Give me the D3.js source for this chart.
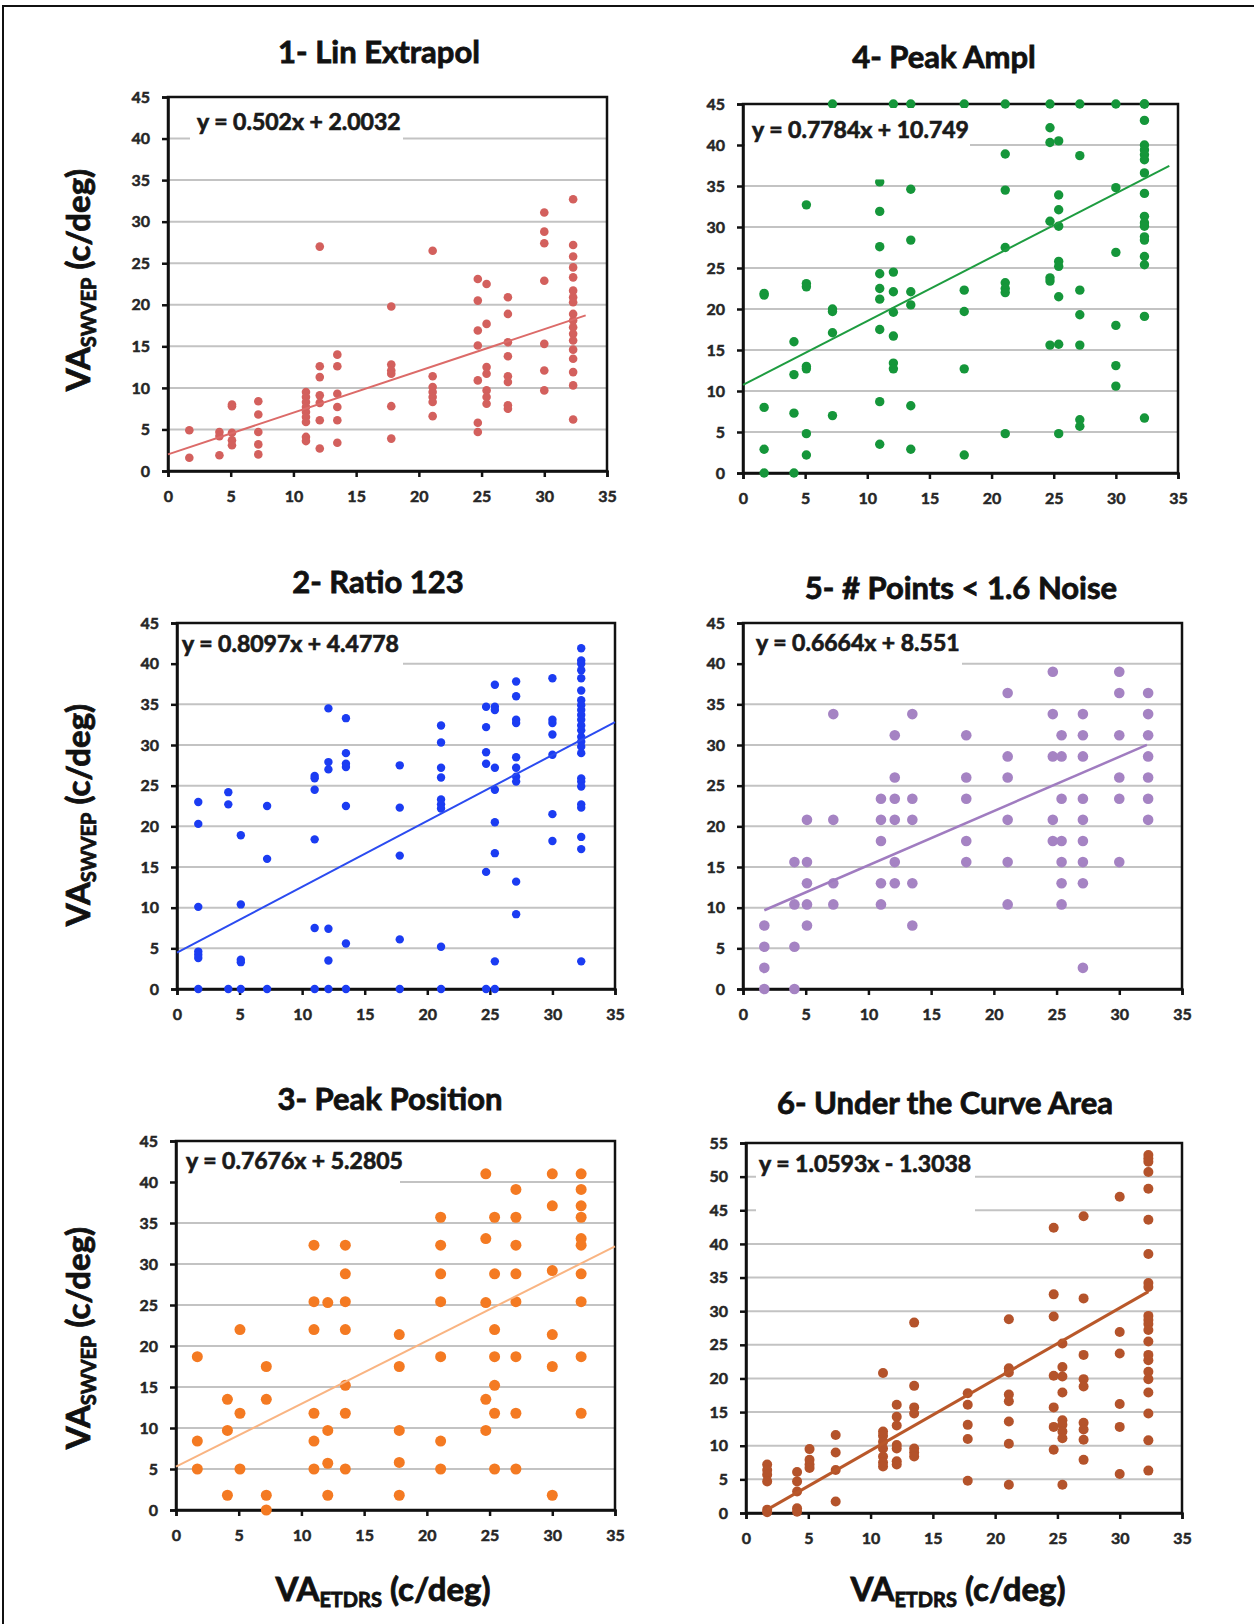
<!DOCTYPE html>
<meta charset="utf-8">
<style>
body{margin:0;background:#fff;}
svg text{font-family:Lato,"Open Sans",sans-serif;font-weight:bold;}
</style>
<body>
<script src="https://cdn.jsdelivr.net/npm/d3@7"></script>
<script>
// VA ETDRS levels (c/deg), shared by all six methods
var xLevels = [1.7, 4.1, 5.1, 7.2, 11, 12.1, 13.5, 17.8, 21.1, 24.7, 25.4, 27.1, 30, 32.3];

// VA SWVEP values, one list for each x level
var linExtrapol = [
  [4.9, 1.6], [4.7, 4.2, 1.9], [8.0, 7.8, 4.6, 3.7, 3.1], [8.4, 6.8, 4.7, 3.2, 2.0],
  [9.5, 8.9, 8.3, 7.7, 7.1, 6.5, 5.9, 4.1, 3.6], [27.0, 12.6, 11.3, 9.1, 8.2, 6.1, 2.7],
  [14.0, 12.6, 9.3, 7.7, 6.1, 3.4], [19.8, 12.8, 12.1, 11.7, 7.8, 3.9],
  [26.5, 11.4, 10.1, 9.5, 8.9, 8.3, 6.6], [23.1, 20.5, 16.9, 15.1, 10.9, 5.8, 4.7],
  [22.5, 17.7, 12.5, 11.7, 9.7, 8.9, 8.1], [20.9, 18.9, 15.5, 13.8, 11.4, 10.7, 7.9, 7.5],
  [31.1, 28.8, 27.4, 22.9, 15.3, 12.1, 9.7],
  [32.7, 27.2, 25.8, 24.5, 23.3, 21.7, 20.9, 20.3, 18.9, 18.1, 17.3, 16.5, 15.7, 14.6, 13.5, 11.9, 10.3, 6.2]
];
var ratio123 = [
  [23.0, 20.3, 10.1, 4.6, 4.2, 3.8, 0], [24.2, 22.7, 0], [18.9, 10.4, 3.6, 3.3, 0], [22.5, 16.0, 0],
  [26.2, 25.9, 24.5, 18.4, 7.5, 0], [34.5, 27.9, 27.0, 7.4, 3.5, 0], [33.3, 29.0, 27.7, 27.3, 22.5, 5.6, 0],
  [27.5, 22.3, 16.4, 6.1, 0], [32.4, 30.3, 27.2, 26.0, 23.3, 22.7, 22.2, 5.2, 0],
  [34.7, 32.2, 29.1, 27.7, 14.4, 0], [37.4, 34.7, 34.3, 27.2, 24.5, 20.5, 16.7, 3.4, 0],
  [37.8, 36.0, 33.1, 32.7, 28.5, 27.2, 26.1, 25.5, 13.2, 9.2], [38.2, 33.1, 32.7, 31.3, 28.8, 21.5, 18.2],
  [41.9, 40.4, 40.0, 39.2, 38.2, 36.7, 35.5, 34.9, 34.3, 33.7, 33.1, 32.4, 31.8, 31.0, 30.4, 29.8, 29.0, 25.9, 25.5, 24.9, 22.7, 22.3, 18.7, 17.2, 3.4]
];
var peakPosition = [
  [18.7, 8.4, 5.0], [13.5, 9.7, 1.8], [22.0, 11.8, 5.0], [17.5, 13.5, 1.8, 0],
  [32.3, 25.4, 22.0, 11.8, 8.4, 5.0], [25.3, 9.7, 5.7, 1.8], [32.3, 28.8, 25.4, 22.0, 15.2, 11.8, 5.0],
  [21.4, 17.5, 9.7, 5.8, 1.8], [35.7, 32.3, 28.8, 25.4, 18.7, 8.4, 5.0], [41.0, 33.1, 25.3, 13.5, 9.7],
  [35.7, 28.8, 22.0, 18.7, 15.2, 11.8, 5.0], [39.1, 35.7, 32.3, 28.8, 25.4, 18.7, 11.8, 5.0],
  [41.0, 37.1, 29.2, 21.4, 17.5, 1.8], [41.0, 39.1, 37.1, 35.7, 33.1, 32.3, 28.8, 25.4, 18.7, 11.8]
];
var peakAmpl = [
  [21.7, 21.9, 8.0, 2.9, 0], [16.0, 12.0, 7.3, 0], [32.7, 23.1, 22.7, 13.0, 12.7, 4.8, 2.2],
  [45, 20.0, 19.7, 17.1, 7.0], [35.5, 31.9, 27.6, 24.3, 22.5, 21.2, 17.5, 8.7, 3.5],
  [45, 24.5, 22.1, 19.6, 16.7, 13.4, 12.7], [45, 34.6, 28.4, 22.1, 20.5, 8.2, 2.9], [45, 22.3, 19.7, 12.7, 2.2],
  [45, 38.9, 34.5, 27.5, 23.2, 22.5, 22.0, 4.8], [45, 42.1, 40.3, 30.7, 23.8, 23.4, 15.6],
  [40.5, 33.9, 32.1, 30.1, 25.8, 25.2, 21.5, 15.7, 4.8], [45, 38.7, 22.3, 19.3, 15.6, 6.5, 5.7],
  [45, 34.8, 26.9, 18.0, 13.1, 10.6],
  [45, 45, 43.0, 40.0, 39.4, 38.8, 38.2, 36.6, 34.1, 31.3, 30.5, 30.1, 28.8, 28.4, 26.4, 25.4, 19.1, 6.7]
];
var pointsNoise = [
  [7.8, 5.2, 2.6, 0], [15.6, 10.4, 5.2, 0], [20.8, 15.6, 13, 10.4, 7.8], [33.8, 20.8, 13, 10.4],
  [23.4, 20.8, 18.2, 13, 10.4], [31.2, 26, 23.4, 20.8, 15.6, 13], [33.8, 23.4, 20.8, 13, 7.8],
  [31.2, 26, 23.4, 18.2, 15.6], [36.4, 28.6, 26, 20.8, 15.6, 10.4], [39, 33.8, 28.6, 20.8, 18.2],
  [31.2, 28.6, 23.4, 18.2, 15.6, 13, 10.4], [33.8, 31.2, 28.6, 23.4, 20.8, 18.2, 15.6, 13, 2.6],
  [39, 36.4, 31.2, 26, 23.4, 15.6], [36.4, 33.8, 31.2, 28.6, 26, 23.4, 20.8]
];
var underCurve = [
  [7.2, 6.4, 5.7, 4.7, 0.5, 0.1], [6.1, 4.7, 3.2, 0.7, 0.2], [9.5, 7.9, 7.2, 6.7], [11.6, 9.0, 6.4, 1.7],
  [20.8, 12.1, 11.5, 10.6, 9.6, 8.4, 7.5, 6.9], [16.1, 14.3, 13.0, 10.1, 9.6, 7.7, 7.2],
  [28.3, 18.9, 15.7, 14.8, 9.6, 9.0, 8.4], [17.8, 16.1, 13.1, 11.0, 4.8],
  [28.8, 21.5, 20.9, 17.6, 16.6, 13.6, 10.3, 4.2], [42.4, 32.5, 29.2, 20.4, 15.7, 12.8, 9.4],
  [25.2, 21.7, 20.3, 17.9, 13.8, 13.1, 12.1, 11.1, 4.2], [44.1, 31.9, 23.5, 19.9, 18.8, 13.4, 12.4, 10.9, 7.9],
  [47.0, 26.9, 23.7, 16.2, 12.8, 5.8],
  [53.2, 52.7, 52.2, 50.7, 48.2, 43.6, 38.5, 34.2, 33.6, 29.3, 28.7, 28.1, 27.2, 25.5, 23.5, 22.7, 21.0, 19.9, 17.9, 14.8, 10.8, 6.3]
];

var titles = ["1- Lin Extrapol", "2- Ratio 123", "3- Peak Position", "4- Peak Ampl", "5- # Points < 1.6 Noise", "6- Under the Curve Area"];
var slopes = [0.502, 0.8097, 0.7676, 0.7784, 0.6664, 1.0593];
var intercepts = [2.0032, 4.4778, 5.2805, 10.749, 8.551, -1.3038];
var trendFrom = [0, 0, 0, 0, 1.7, 1.7];
var trendTo = [33.3, 35, 35, 34.3, 32.2, 32.3];
var yMaxes = [45, 45, 45, 45, 45, 55];
var xMax = 35;

// layout of each panel (pixels)
var panels = [
  {data: linExtrapol, left: 168, right: 607, top: 97, bottom: 471, color: "#d3605d", line: "#dc6b69", r: 4.3, lw: 2,
   boxX0: 190, boxX1: 403, boxTo: 38.6, eqX: 197, eqY: 130, tx: 379, ty: 63},
  {data: ratio123, left: 177, right: 615, top: 623, bottom: 989, color: "#1b3cf2", line: "#2b4bf0", r: 4.2, lw: 2,
   boxX0: 179, boxX1: 403, boxTo: 38.4, eqX: 182, eqY: 652, tx: 378, ty: 593},
  {data: peakPosition, left: 176, right: 615, top: 1141, bottom: 1510, color: "#f47a22", line: "#f9b482", r: 5.5, lw: 2,
   boxX0: 178, boxX1: 400, boxTo: 38.4, eqX: 186, eqY: 1169, tx: 390, ty: 1110},
  {data: peakAmpl, left: 743, right: 1178, top: 104, bottom: 473, color: "#15963a", line: "#1e9c40", r: 4.7, lw: 2,
   boxX0: 745, boxX1: 970, boxTo: 35.8, eqX: 752, eqY: 138, tx: 944, ty: 68},
  {data: pointsNoise, left: 743, right: 1182, top: 623, bottom: 989, color: "#a583c3", line: "#a07cc0", r: 5.3, lw: 2.5,
   boxX0: 745, boxX1: 962, boxTo: 38.4, eqX: 756, eqY: 651, tx: 961, ty: 599},
  {data: underCurve, left: 746, right: 1182, top: 1143, bottom: 1513, color: "#b4532b", line: "#b9582a", r: 5, lw: 3,
   boxX0: 756, boxX1: 975, boxTo: 43.4, eqX: 759, eqY: 1172, tx: 945, ty: 1114}
];

var yLabelPos = [280, 815, 1338];
var xLabelPos = [383, 958];

var svg = d3.select("body").append("svg")
  .attr("width", 1254)
  .attr("height", 1624);

svg.append("rect")
  .attr("width", 1254).attr("height", 1624)
  .attr("fill", "#fff");

// outer frame (only top and left sides are inside the picture)
svg.append("rect")
  .attr("x", 3).attr("y", 6)
  .attr("width", 1300).attr("height", 1700)
  .attr("fill", "none")
  .attr("stroke", "#111")
  .attr("stroke-width", 2);

// heavier text, closer to the scanned look
function heavy(sel, w) {
  sel.attr("stroke", "currentColor").attr("stroke-width", w).attr("paint-order", "stroke");
}

panels.forEach(function(p, k) {
  var yMax = yMaxes[k];
  var x = d3.scaleLinear().domain([0, xMax]).range([p.left, p.right]);
  var y = d3.scaleLinear().domain([0, yMax]).range([p.bottom, p.top]);
  var g = svg.append("g");

  // horizontal gridlines
  g.selectAll(".grid")
    .data(d3.range(5, yMax, 5))
    .enter().append("line")
    .attr("x1", p.left).attr("x2", p.right)
    .attr("y1", function(d) { return y(d); })
    .attr("y2", function(d) { return y(d); })
    .attr("stroke", "#c3c3c3")
    .attr("stroke-width", 2);

  // plot area border
  g.append("rect")
    .attr("x", p.left).attr("y", p.top)
    .attr("width", p.right - p.left).attr("height", p.bottom - p.top)
    .attr("fill", "none")
    .attr("stroke", "#111")
    .attr("stroke-width", 2.5);

  var yAxis = g.append("g")
    .attr("transform", "translate(" + p.left + ",0)")
    .call(d3.axisLeft(y).tickValues(d3.range(0, yMax + 1, 5)).tickSize(6).tickPadding(12));
  var xAxis = g.append("g")
    .attr("transform", "translate(0," + p.bottom + ")")
    .call(d3.axisBottom(x).tickValues(d3.range(0, xMax + 1, 5)).tickSize(6).tickPadding(14));
  [yAxis, xAxis].forEach(function(ax) {
    ax.select(".domain").attr("stroke", "#111").attr("stroke-width", 2.5);
    ax.selectAll(".tick line").attr("stroke", "#111").attr("stroke-width", 2.5);
    ax.selectAll(".tick text")
      .attr("fill", "#262626")
      .style("color", "#262626")
      .style("font-size", "16px")
      .style("font-family", "Lato, sans-serif")
      .style("font-weight", "bold")
      .call(heavy, 0.5);
  });

  // points
  var pts = [];
  p.data.forEach(function(col, i) {
    col.forEach(function(v) { pts.push({x: xLevels[i], y: v}); });
  });
  g.selectAll(".dot")
    .data(pts)
    .enter().append("circle")
    .attr("cx", function(d) { return x(d.x); })
    .attr("cy", function(d) { return y(d.y); })
    .attr("r", p.r)
    .attr("fill", p.color);

  // linear trendline
  var line = d3.line()
    .x(function(d) { return x(d); })
    .y(function(d) { return y(slopes[k] * d + intercepts[k]); });
  g.append("path")
    .datum([trendFrom[k], trendTo[k]])
    .attr("d", line)
    .attr("fill", "none")
    .attr("stroke", p.line)
    .attr("stroke-width", p.lw);

  // equation label box
  g.append("rect")
    .attr("x", p.boxX0).attr("y", p.top + 4)
    .attr("width", p.boxX1 - p.boxX0)
    .attr("height", y(p.boxTo) - p.top - 4)
    .attr("fill", "#fff");

  var b = intercepts[k];
  g.append("text")
    .attr("x", p.eqX).attr("y", p.eqY)
    .attr("fill", "#1a1a1a")
    .style("color", "#1a1a1a")
    .style("font-size", "23px")
    .text("y = " + slopes[k] + "x " + (b < 0 ? "- " : "+ ") + Math.abs(b))
    .call(heavy, 0.7);

  // title
  g.append("text")
    .attr("x", p.tx).attr("y", p.ty)
    .attr("text-anchor", "middle")
    .attr("fill", "#111")
    .style("color", "#111")
    .style("font-size", "31px")
    .text(titles[k])
    .call(heavy, 0.8);
});

// y axis labels
yLabelPos.forEach(function(cy) {
  var t = svg.append("text")
    .attr("transform", "translate(90," + cy + ") rotate(-90)")
    .attr("text-anchor", "middle")
    .attr("fill", "#111")
    .style("color", "#111")
    .style("font-size", "33px")
    .call(heavy, 0.8);
  t.append("tspan").text("VA");
  t.append("tspan").attr("dy", "0.3em").style("font-size", "20px").text("SWVEP");
  t.append("tspan").attr("dy", "-0.18em").text(" (c/deg)");
});

// x axis labels
xLabelPos.forEach(function(cx) {
  var t = svg.append("text")
    .attr("x", cx).attr("y", 1601)
    .attr("text-anchor", "middle")
    .attr("fill", "#111")
    .style("color", "#111")
    .style("font-size", "33px")
    .call(heavy, 0.8);
  t.append("tspan").text("VA");
  t.append("tspan").attr("dy", "0.3em").style("font-size", "20px").text("ETDRS");
  t.append("tspan").attr("dy", "-0.18em").text(" (c/deg)");
});
</script>
</body>
